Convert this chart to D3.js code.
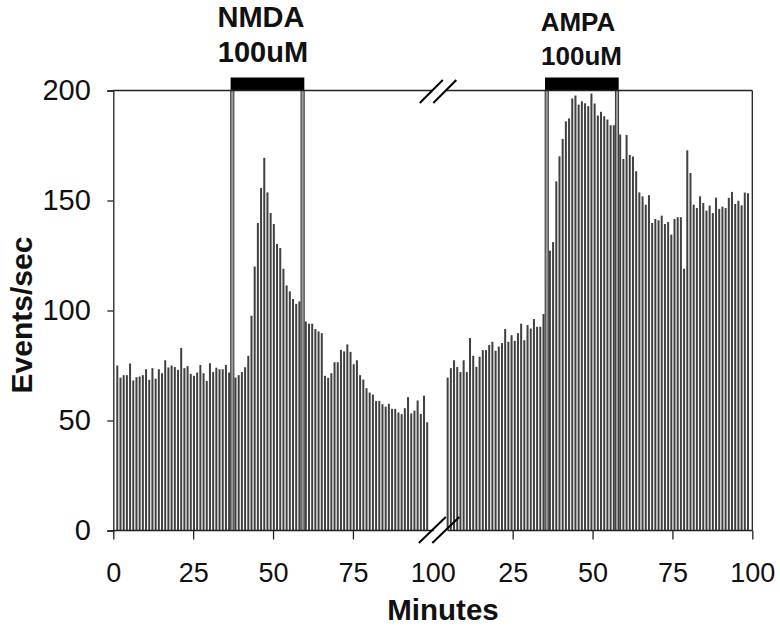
<!DOCTYPE html>
<html>
<head>
<meta charset="utf-8">
<script src="https://cdn.jsdelivr.net/npm/d3@7"></script>
<style>
  html, body { margin: 0; padding: 0; background: #fff; }
  svg { display: block; font-family: "Liberation Sans", Arial, sans-serif; }
</style>
</head>
<body>
<svg id="chart" width="780" height="626"></svg>
<script>
// ---------------- DATA ----------------
// Events/sec per 1-minute bin, first recording (NMDA)
const leftValues = [
  75, 69.5, 70.6, 70.6, 75.9, 68.2, 69.7, 70, 70.6, 73.3,
  68.5, 73.8, 69, 73.3, 71.5, 77.4, 74.1, 75, 74.3, 73,
  83, 73.8, 74.7, 71.2, 70.3, 71.8, 75.2, 71.5, 68, 76,
  72, 74, 73.3, 73.3, 75.2, 71.8, 71, 69.5, 70.6, 72,
  74.2, 79.4, 97.6, 120, 139.8, 155.7, 169.4, 153.7, 144.3, 139.3,
  130.2, 128.4, 119, 111.4, 108.7, 105.2, 103, 104.1, 101, 95,
  94, 94, 91.6, 90.5, 89.7, 70.3, 69.4, 71.5, 76.5, 76.5,
  82.1, 81.4, 84.6, 81.2, 75.6, 77.4, 70.6, 68.6, 64.7, 62.7,
  61.8, 58.9, 58.9, 57.4, 56.3, 57.6, 55.3, 55.3, 53.6, 52.9,
  55.6, 60.6, 53.2, 54.5, 59.1, 53, 61.3, 49.2
];
// Events/sec per 1-minute bin, second recording (AMPA)
const rightValues = [
  69.5, 73.8, 77.4, 74.3, 72, 77.4, 72, 87.5, 79.4, 74.4,
  79, 82, 82, 84.3, 85.8, 81.7, 83.6, 85.2, 91.6, 85.8,
  88.8, 86.2, 89.7, 94, 86.5, 93.4, 91.8, 96.1, 92.6, 92.6,
  98.4, 112, 127.2, 131.1, 158.7, 170.1, 178, 186, 187.3, 196.4,
  197.7, 193.6, 195.1, 194.2, 192.9, 198.6, 194.1, 188.6, 190.3, 188.3,
  186.8, 184.2, 184.2, 183, 180, 168.9, 179.8, 170.7, 170, 163.3,
  153.7, 151.9, 148.1, 152.4, 139.8, 141.6, 141, 143.1, 139.3, 140.2,
  134.5, 141.6, 142.4, 142.4, 119, 172.8, 162.5, 148.1, 146.6, 151.9,
  148.9, 145.4, 147.7, 144.3, 151.3, 146.2, 147.2, 146.6, 151.2, 153.9,
  148.4, 149.9, 147.8, 153.6, 153.3
];
// time (continuous minutes on the broken axis) of the first bin of each recording
const leftStartMinute = 1.25;
const rightStartMinute = 104.65;
// x tick positions (continuous axis) and their printed labels
const xTickValues = [0, 25, 50, 75, 100, 125, 150, 175, 200];
const xTickLabels = ["0", "25", "50", "75", "100", "25", "50", "75", "100"];
const yTickValues = [0, 50, 100, 150, 200];
// drug application windows (continuous minutes)
const drugs = [
  { name: "NMDA", dose: "100uM", start: 37.25, end: 59.25 },
  { name: "AMPA", dose: "100uM", start: 135.65, end: 157.65 }
];
const breakMinute = 100;

// ---------------- LAYOUT ----------------
const svg = d3.select("#chart");
const x = d3.scaleLinear().domain([0, 200]).range([113.3, 752.3]);
const y = d3.scaleLinear().domain([0, 200]).range([530.5, 90.5]);
const ink = "#111";

const bars = leftValues.map((v, i) => ({ t: leftStartMinute + i, v }))
  .concat(rightValues.map((v, i) => ({ t: rightStartMinute + i, v })));

// bars
svg.append("g").selectAll("rect").data(bars).join("rect")
  .attr("x", d => x(d.t) - 1)
  .attr("width", 2)
  .attr("y", d => y(d.v))
  .attr("height", d => y(0) - y(d.v))
  .attr("fill", "#404040");

// drug window lines and top bars
const dg = svg.append("g");
drugs.forEach(d => {
  [d.start, d.end].forEach(t => {
    dg.append("rect")
      .attr("x", x(t) - 1.6).attr("width", 3.2)
      .attr("y", y(200)).attr("height", y(0) - y(200))
      .attr("fill", "#9a9a9a").attr("stroke", "#2a2a2a").attr("stroke-width", 0.9);
  });
  dg.append("rect")
    .attr("x", x(d.start) - 1.7).attr("width", x(d.end) - x(d.start) + 3.4)
    .attr("y", y(200) - 13).attr("height", 13)
    .attr("fill", "#000");
});

// titles
svg.append("text").attr("x", 261).attr("y", 26.5).attr("text-anchor", "middle")
  .attr("font-weight", "bold").attr("font-size", 29).attr("fill", ink).text(drugs[0].name);
svg.append("text").attr("x", 263).attr("y", 61.5).attr("text-anchor", "middle")
  .attr("font-weight", "bold").attr("font-size", 29).attr("fill", ink).text(drugs[0].dose);
svg.append("text").attr("x", 578).attr("y", 31).attr("text-anchor", "middle")
  .attr("font-weight", "bold").attr("font-size", 26).attr("fill", ink).text(drugs[1].name);
svg.append("text").attr("x", 581.5).attr("y", 65).attr("text-anchor", "middle")
  .attr("font-weight", "bold").attr("font-size", 26).attr("fill", ink).text(drugs[1].dose);

// frame: top and right
const xb = x(breakMinute);
const fr = svg.append("g").attr("stroke", "#222").attr("stroke-width", 1.3).attr("fill", "none");
fr.append("line").attr("x1", x(0)).attr("x2", xb).attr("y1", y(200)).attr("y2", y(200));
fr.append("line").attr("x1", xb + 13).attr("x2", x(200)).attr("y1", y(200)).attr("y2", y(200));
fr.append("line").attr("x1", x(200)).attr("x2", x(200)).attr("y1", y(200)).attr("y2", y(0));
// bottom baseline
fr.append("line").attr("x1", x(0)).attr("x2", xb + 1).attr("y1", y(0)).attr("y2", y(0));
fr.append("line").attr("x1", xb + 15).attr("x2", x(200)).attr("y1", y(0)).attr("y2", y(0));

// break marks (two slashes at top and bottom)
const brk = svg.append("g").attr("stroke", "#000").attr("stroke-width", 2);
[0, 13.5].forEach(dx => {
  brk.append("line").attr("x1", xb - 13 + dx).attr("y1", y(200) + 12.5)
    .attr("x2", xb + 10 + dx).attr("y2", y(200) - 10.5);
  brk.append("line").attr("x1", xb - 14 + dx).attr("y1", y(0) + 12.5)
    .attr("x2", xb + 13 + dx).attr("y2", y(0) - 13.5);
});

// y axis
const yAxis = svg.append("g").attr("transform", `translate(${x(0)},0)`)
  .call(d3.axisLeft(y).tickValues(yTickValues).tickSize(6).tickPadding(16.5).tickFormat(d3.format("d")));
yAxis.selectAll("path,line").attr("stroke", "#222").attr("stroke-width", 1.3);
yAxis.selectAll("text").attr("font-size", 29).attr("fill", ink)
  .attr("font-family", "Liberation Sans, Arial, sans-serif");

// x axis
const xAxis = svg.append("g").attr("transform", `translate(0,${y(0)})`)
  .call(d3.axisBottom(x).tickValues(xTickValues).tickSize(9).tickPadding(23)
    .tickFormat((d, i) => xTickLabels[i]));
xAxis.select(".domain").remove();
xAxis.selectAll("line").attr("stroke", "#222").attr("stroke-width", 1.3);
xAxis.selectAll(".tick").filter(d => d === breakMinute).select("line").remove();
xAxis.selectAll("text").attr("font-size", 27).attr("fill", ink)
  .attr("font-family", "Liberation Sans, Arial, sans-serif");

// axis titles
svg.append("text").attr("x", 443).attr("y", 620).attr("text-anchor", "middle")
  .attr("font-weight", "bold").attr("font-size", 29.5).attr("fill", ink).text("Minutes");
svg.append("text").attr("transform", "translate(32,315) rotate(-90)").attr("text-anchor", "middle")
  .attr("font-weight", "bold").attr("font-size", 30).attr("fill", ink).text("Events/sec");
</script>
</body>
</html>
